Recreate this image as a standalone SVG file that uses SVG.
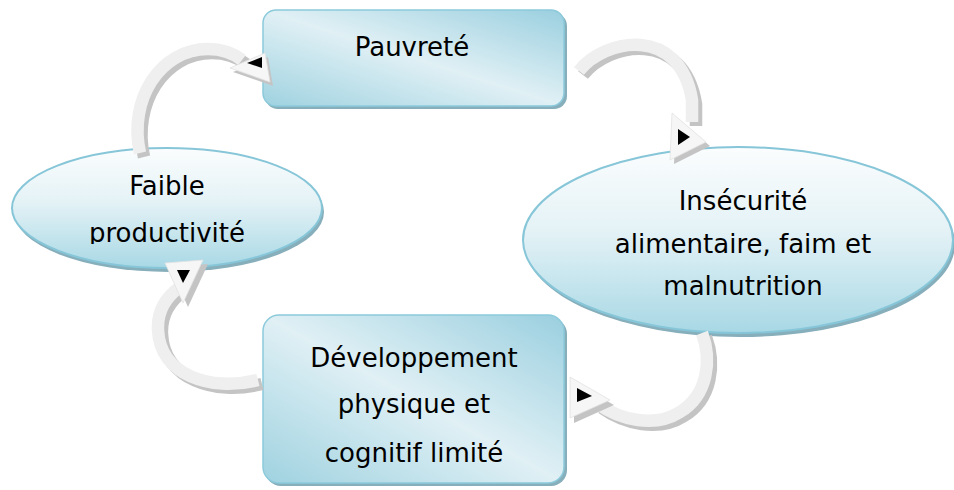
<svg xmlns="http://www.w3.org/2000/svg" width="954" height="490" viewBox="0 0 954 490">
<defs>
<linearGradient id="boxg" x1="0" y1="1" x2="1" y2="0">
<stop offset="0" stop-color="#9fd2e0"/>
<stop offset="0.5" stop-color="#e0f0f5"/>
<stop offset="1" stop-color="#9acfdf"/>
</linearGradient>
<linearGradient id="ellg" x1="0" y1="0" x2="0" y2="1">
<stop offset="0" stop-color="#fbfdfe"/>
<stop offset="0.45" stop-color="#e4f2f6"/>
<stop offset="1" stop-color="#a8d8e5"/>
</linearGradient>
<clipPath id="faibleclip"><rect x="0" y="140" width="340" height="104"/></clipPath>
<style>
.box{fill:url(#boxg);stroke:#8ccadb;stroke-width:1.5}
.ell{fill:url(#ellg);stroke:#86c6d8;stroke-width:2}
.shadow{fill:#86aebb}
.t{font-family:"DejaVu Sans","Liberation Sans",sans-serif;font-size:26px;fill:#000;text-anchor:middle}
.band{fill:none;stroke:#efefef;stroke-width:12.5;stroke-linecap:butt}
.bandsh{fill:none;stroke:#c4c4c4;stroke-width:12.5;stroke-linecap:butt}
.head{fill:#f6f6f6;stroke:#e2e2e2;stroke-width:0.8}
.headsh{fill:#c4c4c4}
.tip{fill:#000}
</style>
</defs>
<rect width="954" height="490" fill="#ffffff"/>

<g id="node-pauvrete">
<rect class="shadow" x="265" y="13" width="302" height="96" rx="13"/>
<rect class="box" x="263" y="10" width="301" height="96" rx="13"/>
<text class="t" x="412" y="56">Pauvreté</text>
</g>

<g id="node-insecurite">
<ellipse class="shadow" cx="740" cy="244" rx="215" ry="93"/>
<ellipse class="ell" cx="738" cy="240" rx="215" ry="93"/>
<text class="t" x="743" y="210">Insécurité</text>
<text class="t" x="743" y="253">alimentaire, faim et</text>
<text class="t" x="743" y="295">malnutrition</text>
</g>

<g id="node-developpement">
<rect class="shadow" x="265" y="318" width="302" height="168" rx="16"/>
<rect class="box" x="263" y="315" width="301" height="168" rx="16"/>
<text class="t" x="414" y="367">Développement</text>
<text class="t" x="414" y="413">physique et</text>
<text class="t" x="414" y="462">cognitif limité</text>
</g>

<g id="node-faible">
<ellipse class="shadow" cx="169" cy="212" rx="155" ry="60"/>
<ellipse class="ell" cx="167" cy="208" rx="155" ry="60"/>
<g clip-path="url(#faibleclip)">
<text class="t" x="167" y="195">Faible</text>
<text class="t" x="167" y="242">productivité</text>
</g>
</g>

<g id="connectors">
<g id="arrow-faible-pauvrete">
<path class="bandsh" transform="translate(4,4)" d="M 140 153 C 128 100 160 49 208 49 C 222 49 233 53 242 60"/>
<path class="band" d="M 140 153 C 128 100 160 49 208 49 C 222 49 233 53 242 60"/>
<polygon class="headsh" transform="translate(3,4)" points="230,68 265,53 270,82"/>
<polygon class="head" points="230,68 265,53 270,82"/>
<polygon class="tip" points="247,63 262,57 262,68"/>
</g>
<g id="arrow-pauvrete-insecurite">
<path class="bandsh" transform="translate(4,4)" d="M 579 71 C 605 38 680 25 692 100 L 692 122"/>
<path class="band" d="M 579 71 C 605 38 680 25 692 100 L 692 122"/>
<polygon class="headsh" transform="translate(4,4)" points="672,113 706,142 670,160"/>
<polygon class="head" points="672,113 706,142 670,160"/>
<polygon class="tip" points="678,129 690,137 678,145"/>
</g>
<g id="arrow-insecurite-developpement">
<path class="bandsh" transform="translate(4,4)" d="M 702 333 C 712 360 708 395 680 412 C 655 428 620 420 598 404"/>
<path class="band" d="M 702 333 C 712 360 708 395 680 412 C 655 428 620 420 598 404"/>
<polygon class="headsh" transform="translate(4,5)" points="570,377 610,400 570,418"/>
<polygon class="head" points="570,377 610,400 570,418"/>
<polygon class="tip" points="577,388 592,396 577,402"/>
</g>
<g id="arrow-developpement-faible">
<path class="bandsh" transform="translate(4,4)" d="M 258 380 C 210 392 160 375 158 330 C 157 310 166 297 180 287"/>
<path class="band" d="M 258 380 C 210 392 160 375 158 330 C 157 310 166 297 180 287"/>
<polygon class="headsh" transform="translate(5,4)" points="165,263 203,260 183,303"/>
<polygon class="head" points="165,263 203,260 183,303"/>
<polygon class="tip" points="177,270 190,270 183,283"/>
</g>
</g>
</svg>
